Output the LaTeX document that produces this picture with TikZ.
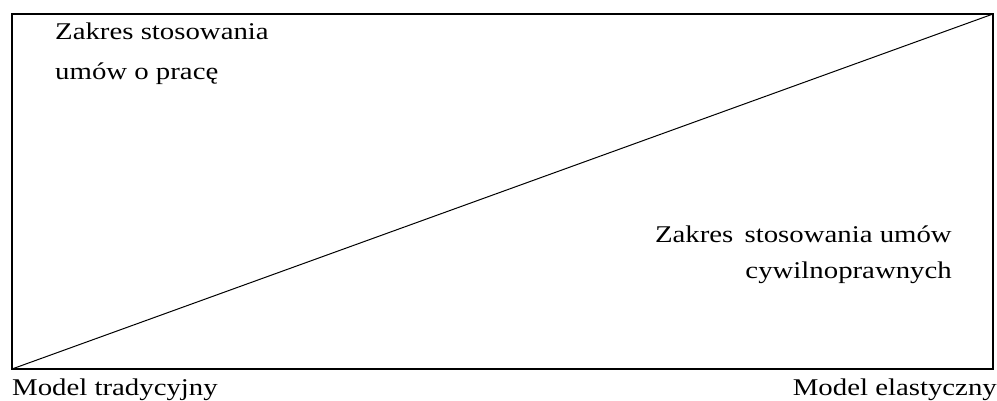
\documentclass[tikz,border=0pt]{standalone}
\usepackage{fontspec}
\setmainfont{Liberation Serif}[FakeStretch=1.2]
\usepackage{tikz}

\tikzset{
  label text/.style={inner sep=0pt, font=\fontsize{24}{28}\selectfont},
}

\begin{document}
\begin{tikzpicture}[x=1pt,y=-1pt]
\useasboundingbox (0,0) rectangle (997,401);

% frame and dividing line
\coordinate (bl) at (12,369);
\coordinate (tr) at (993,14);
\draw[line width=1.2pt] (bl) rectangle (tr);
\draw[line width=1pt] (bl) -- (tr);

% areas
\node[label text, anchor=base west] (pracaA) at (55,40) {Zakres stosowania};
\node[label text, anchor=base west] (pracaB) at (55,80) {umów o pracę};

\node[label text, anchor=base east] (cywilA) at (952,243) {Zakres\hspace{4pt} stosowania umów};
\node[label text, anchor=base east] (cywilB) at (952,278) {cywilnoprawnych};

% models
\node[label text, anchor=base west] (tradycyjny) at (12,395) {Model tradycyjny};
\node[label text, anchor=base east] (elastyczny) at (997,395) {Model elastyczny};

\end{tikzpicture}
\end{document}
